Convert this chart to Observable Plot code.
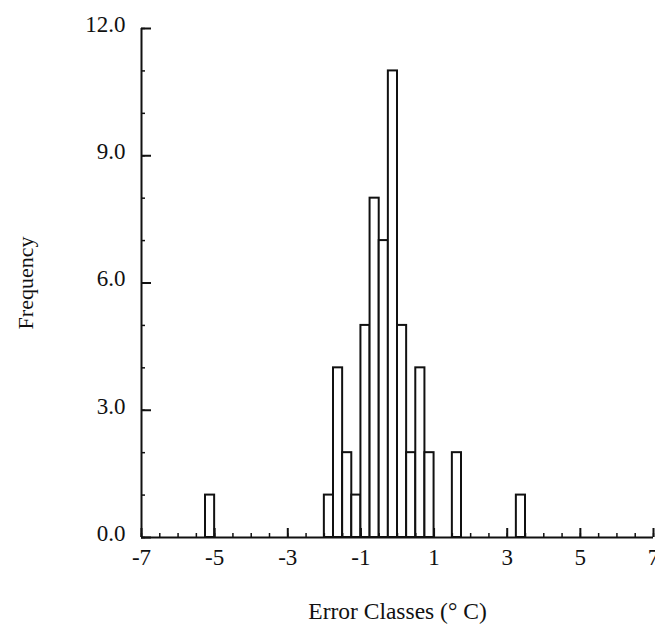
<!DOCTYPE html>
<html>
<head>
<meta charset="utf-8">
<script src="https://cdn.jsdelivr.net/npm/d3@7"></script>
<script src="https://cdn.jsdelivr.net/npm/@observablehq/plot@0.6"></script>
<style>
  html, body { margin: 0; padding: 0; background: white; }
</style>
</head>
<body>
<div id="chart"></div>
<script>
// Histogram of error classes (bin start, °C) and frequency
const binStart = [-5.25, -2, -1.75, -1.5, -1.25, -1, -0.75, -0.5, -0.25, 0, 0.25, 0.5, 0.75, 1.5, 3.25];
const frequency = [1, 1, 4, 2, 1, 5, 8, 7, 11, 5, 2, 4, 2, 2, 1];
const binWidth = 0.25;

const xMajorTicks = [-7, -5, -3, -1, 1, 3, 5, 7];
const xMinorTicks = d3.range(-7, 7.001, 0.5);
const yMajorTicks = [0, 3, 6, 9, 12];
const yMinorTicks = d3.range(0, 12.001, 1);

const xTitle = "Error Classes (° C)";
const yTitle = "Frequency";

const bins = binStart.map((s, i) => ({x1: s, x2: s + binWidth, count: frequency[i]}));

const ink = "#111";

const chart = Plot.plot({
  width: 655,
  height: 632,
  marginLeft: 141,
  marginRight: 2,
  marginTop: 28,
  marginBottom: 95,
  x: {domain: [-7, 7], label: null},
  y: {domain: [0, 12], label: null},
  style: {fontFamily: "Liberation Serif, Times New Roman, serif", fontSize: "23px", color: ink, background: "white"},
  marks: [
    Plot.rect(bins, {x1: "x1", x2: "x2", y1: 0, y2: "count", fill: "white", stroke: ink, strokeWidth: 2}),
    Plot.ruleY([0], {stroke: ink, strokeWidth: 2}),
    Plot.ruleX([-7], {stroke: ink, strokeWidth: 2}),
    // x ticks (inward)
    Plot.axisX({ticks: xMinorTicks, tickSize: 4, dy: -4, tickFormat: () => "", label: null, stroke: ink, strokeWidth: 1.5}),
    Plot.axisX({ticks: xMajorTicks, tickSize: 9, dy: -9, tickFormat: () => "", label: null, stroke: ink, strokeWidth: 2}),
    Plot.axisX({ticks: xMajorTicks, tickSize: 0, tickPadding: 11, tickFormat: d => String(d), label: null, fontSize: 23, fill: ink}),
    // y ticks (inward)
    Plot.axisY({ticks: yMinorTicks, tickSize: 4, dx: 4, tickFormat: () => "", label: null, stroke: ink, strokeWidth: 1.5}),
    Plot.axisY({ticks: yMajorTicks, tickSize: 10, dx: 10, tickFormat: () => "", label: null, stroke: ink, strokeWidth: 2}),
    Plot.axisY({ticks: yMajorTicks, tickSize: 0, tickPadding: 16, dy: -4, tickFormat: d => d.toFixed(1), label: null, fontSize: 23, fill: ink}),
    // axis titles
    Plot.text([xTitle], {frameAnchor: "bottom", textAnchor: "middle", dy: 81, fontSize: 23.5, fill: ink}),
    Plot.text([yTitle], {frameAnchor: "left", textAnchor: "middle", dx: -116, rotate: -90, fontSize: 22, fill: ink})
  ]
});

document.getElementById("chart").appendChild(chart);
</script>
</body>
</html>
